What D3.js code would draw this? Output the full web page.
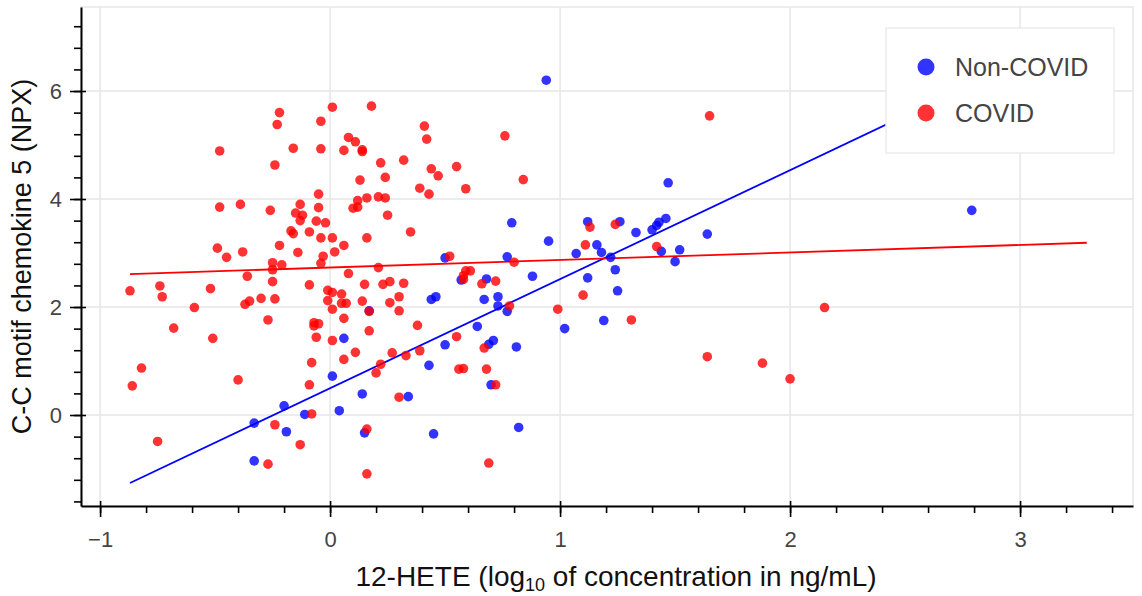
<!DOCTYPE html>
<html>
<head>
<meta charset="utf-8">
<script src="https://cdn.jsdelivr.net/npm/d3@7"></script>
<style>
  body { margin: 0; background: #fff; }
  svg { display: block; font-family: "Liberation Sans", Arial, sans-serif; }
</style>
</head>
<body>
<div id="chart"></div>
<script>
// values
const nonCovidX = [0.94,0.79,0.95,1.12,1.26,1.33,1.40,1.42,1.43,1.46,
  1.47,1.16,1.18,1.07,1.22,1.24,1.12,1.25,1.19,1.02,
  1.44,1.52,1.50,1.64,2.79,0.50,0.77,0.88,0.57,0.68,
  0.73,0.67,0.46,0.44,0.73,0.77,0.64,0.50,0.71,0.69,
  0.81,0.43,0.70,0.34,0.45,0.82,0.17,0.06,0.01,0.14,
  0.04,-0.11,-0.20,-0.33,-0.19,-0.33,0.15];
const nonCovidY = [6.20,3.56,3.22,3.58,3.58,3.38,3.43,3.51,3.57,3.64,
  4.30,3.15,3.01,2.99,2.92,2.69,2.54,2.30,1.75,1.60,
  3.03,3.06,2.84,3.35,3.79,2.91,2.93,2.57,2.50,2.52,
  2.19,2.14,2.19,2.14,2.02,1.92,1.64,1.30,1.38,1.31,
  1.26,0.92,0.56,0.34,-0.35,-0.23,1.93,1.42,0.72,0.39,
  0.08,0.01,0.17,-0.15,-0.31,-0.85,-0.33];

const covidX = [-0.22,-0.23,-0.04,0.01,0.18,-0.48,-0.16,-0.04,0.06,0.08,
  0.11,0.14,0.14,0.22,0.24,0.13,-0.24,-0.05,-0.48,-0.39,
  -0.26,-0.13,-0.05,-0.15,-0.12,-0.13,-0.06,-0.02,-0.17,-0.16,
  -0.09,-0.04,0.01,0.16,0.12,0.10,0.12,0.16,0.21,0.24,
  0.25,-0.22,0.06,0.02,-0.14,-0.03,-0.49,-0.45,-0.38,0.41,
  0.42,0.76,0.32,0.44,0.47,0.55,0.84,0.39,0.43,0.59,
  0.35,1.65,-0.04,-0.25,-0.21,-0.25,-0.36,-0.25,-0.09,-0.52,
  -0.01,0.01,-0.01,0.05,0.05,0.07,-0.30,-0.24,-0.37,-0.35,
  -0.59,0.01,-0.27,-0.07,-0.05,-0.07,-0.06,0.01,-0.51,-0.08,
  -0.40,-0.09,-0.87,-0.74,-0.73,-0.68,-0.82,-0.86,-0.75,0.08,
  0.21,0.15,0.23,0.26,0.32,0.59,0.61,0.58,0.58,0.66,
  0.72,0.52,0.80,0.14,0.26,0.30,0.30,0.17,0.06,0.38,
  0.17,0.55,0.11,0.06,0.27,0.33,0.39,0.67,0.22,0.20,
  0.56,0.58,0.68,0.72,0.30,0.78,0.99,1.10,1.11,1.13,
  1.24,1.31,1.42,2.15,1.64,1.88,2.00,-0.08,-0.24,-0.13,
  0.16,-0.27,0.16,0.69];
const covidY = [5.60,5.38,5.44,5.70,5.72,4.89,4.94,4.93,4.90,5.14,
  5.06,4.91,4.88,4.67,4.40,4.35,4.63,4.09,3.85,3.90,
  3.79,3.90,3.84,3.74,3.70,3.60,3.59,3.56,3.41,3.36,
  3.39,3.28,3.28,3.28,3.97,3.83,3.85,4.02,4.04,4.02,
  3.70,3.14,3.14,3.02,3.01,2.94,3.09,2.92,3.02,5.35,
  5.11,5.17,4.72,4.56,4.43,4.60,4.36,4.20,4.09,4.19,
  3.39,5.54,2.81,2.82,2.78,2.69,2.57,2.47,2.41,2.34,
  2.31,2.27,2.12,2.24,2.07,2.07,2.16,2.15,2.05,2.11,
  1.99,1.96,1.76,1.71,1.69,1.65,1.44,1.38,1.42,0.97,
  0.65,0.56,2.30,2.39,2.19,1.61,0.87,0.54,-0.49,2.62,
  2.73,2.42,2.42,2.47,2.44,2.67,2.67,2.58,2.51,2.43,
  2.48,2.94,2.83,2.11,2.08,2.19,1.93,1.92,1.79,1.66,
  1.56,1.45,1.16,1.03,1.15,1.10,1.19,1.24,0.94,0.78,
  0.85,0.86,0.85,0.56,0.33,2.02,1.96,2.22,3.15,3.48,
  3.53,1.76,3.12,1.99,1.08,0.96,0.67,0.02,-0.18,-0.55,
  -0.26,-0.91,-1.09,-0.89];

// fitted lines (end points)
const fitX = [-0.87, 3.29];
const nonCovidFitY = [-1.26, 7.14];
const covidFitY = [2.61, 3.19];

const groups = ["Non-COVID", "COVID"];
const colors = ["#0000ff", "#ff0000"];
const xTicks = [-1, 0, 1, 2, 3];
const yTicks = [0, 2, 4, 6];

const width = 1142, height = 596;
const frame = { left: 81, right: 1133, top: 7, bottom: 506 };

const svg = d3.select("#chart").append("svg")
    .attr("width", width)
    .attr("height", height);

const x = d3.scaleLinear().domain([-1.083, 3.491]).range([frame.left, frame.right]);
const y = d3.scaleLinear().domain([-1.685, 7.556]).range([frame.bottom, frame.top]);

// frame outline + grid
svg.append("rect")
    .attr("x", frame.left).attr("y", frame.top)
    .attr("width", frame.right - frame.left).attr("height", frame.bottom - frame.top)
    .attr("fill", "none").attr("stroke", "#e8e8e8").attr("stroke-width", 1.5);

svg.append("g").selectAll("line").data(xTicks).join("line")
    .attr("x1", d => x(d)).attr("x2", d => x(d))
    .attr("y1", frame.top).attr("y2", frame.bottom)
    .attr("stroke", "#e6e6e6").attr("stroke-width", 1.5);
svg.append("g").selectAll("line").data(yTicks).join("line")
    .attr("y1", d => y(d)).attr("y2", d => y(d))
    .attr("x1", frame.left).attr("x2", frame.right)
    .attr("stroke", "#e6e6e6").attr("stroke-width", 1.5);

// regression lines
const line = d3.line().x(d => x(d[0])).y(d => y(d[1]));
svg.append("path")
    .datum(fitX.map((v, i) => [v, nonCovidFitY[i]]))
    .attr("d", line).attr("fill", "none")
    .attr("stroke", colors[0]).attr("stroke-width", 1.8);
svg.append("path")
    .datum(fitX.map((v, i) => [v, covidFitY[i]]))
    .attr("d", line).attr("fill", "none")
    .attr("stroke", colors[1]).attr("stroke-width", 1.8);

// points
svg.append("g").selectAll("circle").data(nonCovidX).join("circle")
    .attr("cx", d => x(d))
    .attr("cy", (d, i) => y(nonCovidY[i]))
    .attr("r", 4.8)
    .attr("fill", colors[0]).attr("fill-opacity", 0.8);
svg.append("g").selectAll("circle").data(covidX).join("circle")
    .attr("cx", d => x(d))
    .attr("cy", (d, i) => y(covidY[i]))
    .attr("r", 4.8)
    .attr("fill", colors[1]).attr("fill-opacity", 0.8);

// axes
const xMinor = d3.range(-5, 18).map(i => i / 5);
const yMinor = d3.range(-4, 19).map(i => i * 0.4);
const fmt = d3.format("d");

svg.append("g")
    .attr("transform", `translate(0,${frame.bottom})`)
    .call(d3.axisBottom(x).tickValues(xMinor).tickSize(7).tickFormat(""))
    .call(g => g.select(".domain").remove());
svg.append("g")
    .attr("transform", `translate(0,${frame.bottom})`)
    .call(d3.axisBottom(x).tickValues(xTicks).tickSize(-5).tickFormat(""))
    .call(g => g.select(".domain").remove());
const xAxis = svg.append("g")
    .attr("transform", `translate(0,${frame.bottom})`)
    .call(d3.axisBottom(x).tickValues(xTicks).tickFormat(fmt).tickSize(11).tickSizeOuter(0).tickPadding(14));

svg.append("g")
    .attr("transform", `translate(${frame.left},0)`)
    .call(d3.axisLeft(y).tickValues(yMinor).tickSize(7).tickFormat(""))
    .call(g => g.select(".domain").remove());
svg.append("g")
    .attr("transform", `translate(${frame.left},0)`)
    .call(d3.axisLeft(y).tickValues(yTicks).tickSize(-5).tickFormat(""))
    .call(g => g.select(".domain").remove());
const yAxis = svg.append("g")
    .attr("transform", `translate(${frame.left},0)`)
    .call(d3.axisLeft(y).tickValues(yTicks).tickFormat(fmt).tickSize(11).tickSizeOuter(0).tickPadding(8));

svg.selectAll(".tick line").attr("stroke", "#000").attr("stroke-width", 1.6);
svg.selectAll(".domain").attr("stroke", "#000").attr("stroke-width", 2);
[xAxis, yAxis].forEach(a => a.selectAll("text")
    .attr("font-size", 22).attr("fill", "#444")
    .attr("font-family", "'Liberation Sans', Arial, sans-serif"));

// axis titles
const xt = svg.append("text")
    .attr("x", 616).attr("y", 586)
    .attr("text-anchor", "middle")
    .attr("font-size", 28).attr("fill", "#111");
xt.append("tspan").text("12-HETE (log");
xt.append("tspan").attr("font-size", 18).attr("dy", 5).text("10");
xt.append("tspan").attr("dy", -5).text(" of concentration in ng/mL)");

svg.append("text")
    .attr("transform", `translate(31,${(frame.top + frame.bottom) / 2}) rotate(-90)`)
    .attr("text-anchor", "middle")
    .attr("font-size", 27).attr("fill", "#111")
    .text("C-C motif chemokine 5 (NPX)");

// legend
const legend = svg.append("g");
legend.append("rect")
    .attr("x", 886).attr("y", 28).attr("width", 228).attr("height", 125)
    .attr("fill", "#fff").attr("stroke", "#ececec").attr("stroke-width", 1.5);
const item = legend.selectAll("g").data(groups).join("g")
    .attr("transform", (d, i) => `translate(926,${67 + i * 46})`);
item.append("circle")
    .attr("r", 8.5)
    .attr("fill", (d, i) => colors[i]).attr("fill-opacity", 0.8);
item.append("text")
    .attr("x", 29).attr("dy", "0.36em")
    .attr("font-size", 25).attr("fill", "#444")
    .text(d => d);
</script>
</body>
</html>
